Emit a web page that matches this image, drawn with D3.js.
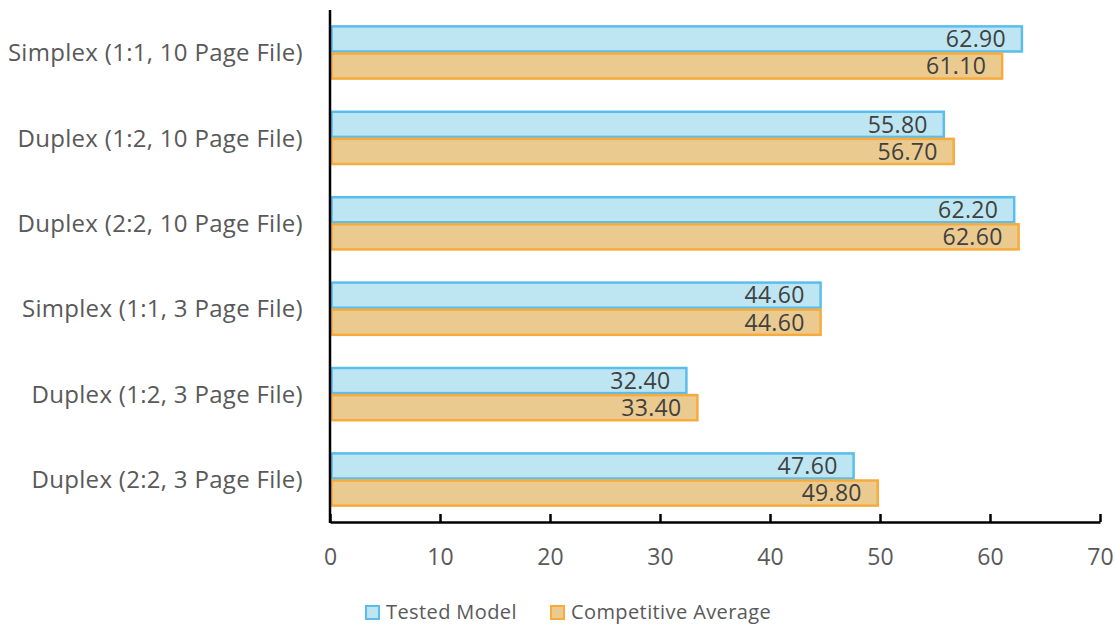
<!DOCTYPE html>
<html>
<head>
<meta charset="utf-8">
<script src="https://cdn.jsdelivr.net/npm/d3@7"></script>
<style>
  body { margin: 0; background: #fff; }
  text { font-family: "Open Sans", "Noto Sans", sans-serif; }
</style>
</head>
<body>
<div id="chartArea"></div>
<script>
const categories = [
  "Simplex (1:1, 10 Page File)",
  "Duplex (1:2, 10 Page File)",
  "Duplex (2:2, 10 Page File)",
  "Simplex (1:1, 3 Page File)",
  "Duplex (1:2, 3 Page File)",
  "Duplex (2:2, 3 Page File)"
];
const seriesNames = ["Tested Model", "Competitive Average"];
const testedModel = [62.9, 55.8, 62.2, 44.6, 32.4, 47.6];
const competitiveAverage = [61.1, 56.7, 62.6, 44.6, 33.4, 49.8];
const xTicks = [0, 10, 20, 30, 40, 50, 60, 70];

(function() {
  const W = 1115, H = 626;
  const margin = { top: 10, right: 15, bottom: 104, left: 330 };
  const w = W - margin.left - margin.right;
  const h = H - margin.top - margin.bottom;

  const fills = ["#bde6f2", "#ebca8f"];
  const strokes = ["#5bbdec", "#f7ab3c"];

  const svg = d3
    .select("#chartArea")
    .append("svg")
    .attr("width", W)
    .attr("height", H);

  const g = svg
    .append("g")
    .attr("transform", "translate(" + margin.left + "," + margin.top + ")");

  const xScale = d3.scaleLinear().domain([0, 70]).range([0, w]);
  const yScale = d3.scaleBand().domain(categories).range([0, h]).paddingInner(0.365).paddingOuter(0.18);
  const inner = d3.scaleBand().domain([0, 1]).range([0, yScale.bandwidth()]);

  const rows = categories.map((c, i) => ({
    cat: c,
    vals: [testedModel[i], competitiveAverage[i]]
  }));

  const grp = g
    .selectAll("g.row")
    .data(rows)
    .enter()
    .append("g")
    .attr("class", "row")
    .attr("transform", d => "translate(0," + yScale(d.cat) + ")");

  const bars = grp
    .selectAll("g.bar")
    .data(d => d.vals.map((v, k) => ({ v, k })))
    .enter()
    .append("g")
    .attr("class", "bar");

  bars
    .append("rect")
    .attr("x", 1.5)
    .attr("y", d => inner(d.k) + 1)
    .attr("width", d => xScale(d.v) - 1.5)
    .attr("height", inner.bandwidth() - 2)
    .attr("fill", d => fills[d.k])
    .attr("stroke", d => strokes[d.k])
    .attr("stroke-width", 2.5);

  bars
    .append("text")
    .attr("x", d => xScale(d.v) - 16)
    .attr("y", d => inner(d.k) + inner.bandwidth() / 2)
    .attr("dy", "0.36em")
    .attr("text-anchor", "end")
    .attr("fill", "#404040")
    .attr("font-size", 23)
    .attr("letter-spacing", 0.3)
    .text(d => d.v.toFixed(2));

  // category labels
  g.selectAll("text.cat")
    .data(categories)
    .enter()
    .append("text")
    .attr("class", "cat")
    .attr("x", -27)
    .attr("y", d => yScale(d) + yScale.bandwidth() / 2)
    .attr("dy", "0.36em")
    .attr("text-anchor", "end")
    .attr("fill", "#595959")
    .attr("font-size", 24)
    .attr("letter-spacing", 0.3)
    .text(d => d);

  // axes
  const xAxis = d3
    .axisBottom(xScale)
    .tickValues(xTicks)
    .tickSizeInner(-8)
    .tickSizeOuter(0)
    .tickPadding(27);

  const ax = g.append("g").attr("transform", "translate(0," + h + ")").call(xAxis);
  ax.select(".domain").attr("stroke", "#000").attr("stroke-width", 2.5);
  ax.selectAll(".tick line").attr("stroke", "#000").attr("stroke-width", 2.5);
  ax.selectAll(".tick text")
    .attr("fill", "#595959")
    .attr("font-size", 23)
    .style("font-family", "'Open Sans', sans-serif");

  g.append("line")
    .attr("x1", 0).attr("x2", 0)
    .attr("y1", 0).attr("y2", h + 1)
    .attr("stroke", "#000")
    .attr("stroke-width", 2.5);

  // legend
  const legend = svg.append("g").attr("transform", "translate(366," + 612 + ")");
  const legX = [0, 185];
  seriesNames.forEach((name, k) => {
    const lg = legend.append("g").attr("transform", "translate(" + legX[k] + ",0)");
    lg.append("rect")
      .attr("x", 0).attr("y", -6)
      .attr("width", 13).attr("height", 13)
      .attr("fill", fills[k])
      .attr("stroke", strokes[k])
      .attr("stroke-width", 2);
    lg.append("text")
      .attr("x", 20).attr("y", 0)
      .attr("dy", "0.36em")
      .attr("fill", "#595959")
      .attr("font-size", 20)
      .attr("letter-spacing", 0.4)
      .text(name);
  });
})();
</script>
</body>
</html>
